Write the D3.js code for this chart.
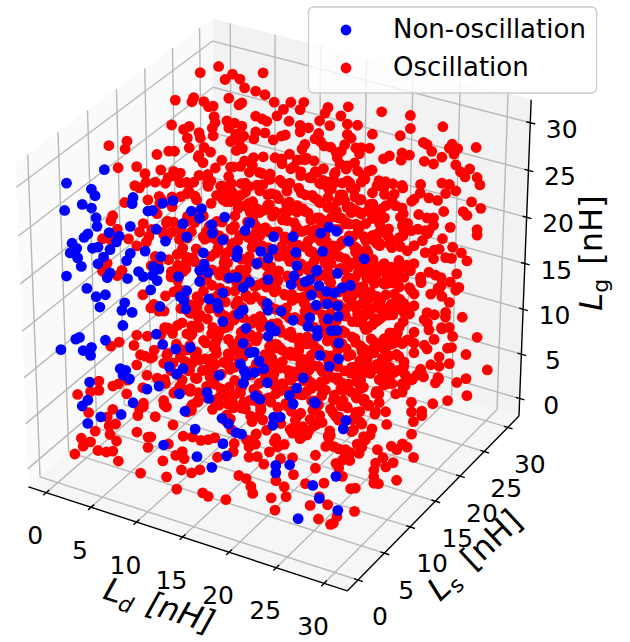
<!DOCTYPE html>
<html><head><meta charset="utf-8">
<script src="https://cdn.jsdelivr.net/npm/d3@7"></script>
<style>html,body{margin:0;padding:0;background:#fff}svg{display:block}text{font-family:"DejaVu Sans",sans-serif}</style>
</head><body><svg id="c" width="630" height="642"></svg>
<script>
const ticks=[0,5,10,15,20,25,30];
const legendLabels=["Non-oscillation","Oscillation"];
// [Ld, Ls, Lg] in nH
const nonOscillation=[[2.4,5,30.1],[1.2,0,30.8],[1,5,27.6],[1.4,5,27],[5.5,5,28],[5.4,5,27.3],[2.9,0,29],[3.9,0,28.9],[1,0,27.8],[4.4,0,28],[4.5,0,27.1],[8.7,5,28.3],[9.8,5,28.9],[7.1,5,27],[7.6,5,27.2],[8.9,10,25],[10,10,25.6],[9.8,10,24.5],[12.5,10,25.4],[8,10,23.4],[11.1,10,24.2],[11.2,10,23.3],[15.2,10,25.6],[14.7,10,24.6],[5.2,5,24.8],[8,5,25.3],[5.8,0,26.8],[3.5,0,26],[3.1,0,25.5],[4,5,23.4],[3.7,5,22.7],[8.4,10,22.1],[12.3,10,22.9],[14.9,15,21.5],[17,15,22.1],[1.8,0,24.5],[2.3,0,24.1],[9,5,24.3],[4,0,24.6],[4.6,0,24.9],[5.9,0,25],[6.8,5,22.6],[1.6,0,23.4],[2.4,0,23.1],[5.2,0,24],[5.2,5,21.9],[10.2,10,20.9],[13.9,10,22.2],[13.8,10,21.5],[13.5,15,19.5],[14.8,15,20.1],[14.3,15,19],[17.3,15,20.5],[8.5,5,22.5],[4.8,5,21],[4.6,0,23.1],[2.8,0,22.3],[13.1,15,18.1],[17.4,15,19.1],[10.3,10,19.7],[7.7,5,21.2],[8.3,5,21.1],[9.8,10,18.9],[10.7,10,18.9],[6.1,5,20.2],[6.6,5,19.8],[5.9,0,22.5],[5.6,0,21.9],[1.2,0,20.8],[7.6,5,20.2],[10.4,5,20.9],[4.9,5,19.1],[8.1,5,19.8],[13,10,19],[13.8,10,19.3],[17.1,15,17.9],[14.3,15,16.7],[9.8,10,17.7],[19.5,15,19.1],[18.8,15,18],[18.3,15,17.6],[16.8,15,16.9],[15.2,10,19.2],[14.5,10,18.4],[3.4,0,20.1],[7.4,5,18.6],[8.4,10,16.3],[12.3,10,17.2],[4.4,0,19.5],[5.4,0,20],[19,15,16.4],[10.6,5,18.8],[11,5,18.5],[10.8,10,16.1],[11.7,10,15.9],[4.6,5,16.4],[4.8,0,18.5],[8.4,5,17.1],[4.3,5,15.5],[5.4,5,15.6],[8.3,10,14.3],[11.8,10,15.4],[14.5,10,16],[14,10,15.4],[14.2,15,14.1],[14.3,15,13.4],[15.7,15,13.7],[18.8,15,13.9],[12.3,10,14.1],[17,15,13.1],[4.4,5,13.9],[14.5,15,11.7],[14.8,10,14.1],[18.6,15,12.9],[15.1,15,11.4],[8,5,14],[14.3,15,10.6],[2.6,0,14.6],[2.2,0,14.3],[5.4,0,15.1],[0.6,0,12.7],[8.7,5,13.1],[3.9,0,13.9],[3,0,13.3],[3.8,0,13],[10.1,5,13],[8.8,10,10.3],[14.5,10,12.4],[15.2,10,11.6],[15.7,10,11.8],[16.2,10,11],[14.2,10,10.1],[9.4,5,10.9],[8,10,7.8],[7.3,10,7],[7,0,12.5],[7.6,0,12.5],[7.3,0,11.9],[8,0,11.7],[14.6,10,9.5],[16.7,10,10.3],[15.7,10,9.6],[11.9,10,8.2],[14.8,10,9],[14.5,10,8.1],[17.1,10,8.9],[18.1,15,7.2],[3.7,0,10.1],[8.3,5,8.5],[7,5,7.8],[17.4,15,5.9],[10.5,5,8.3],[10.6,10,6],[10.8,10,5.4],[16.6,15,4.9],[15.8,10,7.1],[16.3,10,6.9],[3.5,0,8.1],[2.9,0,7.3],[5.5,5,5.9],[17,15,4.1],[16.4,20,1.6],[11.1,5,6.6],[7.1,0,7.6],[4.9,0,6.7],[3.5,0,5.6],[15.1,5,7],[15.8,5,6.6],[17.8,10,5.4],[18.5,10,5.6],[17.7,10,4.5],[12.2,5,5],[16.6,5,5.9],[17.2,5,5.9],[15.2,5,4.3],[8.8,5,2.3],[15.6,5,3.1],[12.4,5,2.1],[14,5,1.4],[20.9,5,3.6],[22.4,5,4.1],[20.9,5,2.8],[24.9,5,2.6],[26.2,0,1.9],[17.1,20,20],[18,20,20.9],[18.8,20,20.7],[20.1,20,20],[17.3,20,18.1],[21.8,20,18.6],[16.7,20,15.9],[18.9,20,16.2],[20.3,20,15.3],[16.9,20,14.3],[17.7,20,13.9],[18.6,20,14],[19.4,20,14.8],[17.8,20,12.6],[18.9,20,12.7],[16.6,20,12.1],[17.9,20,11],[19,20,11.6],[22.8,10,13.5],[24.8,10,13.7],[23.8,10,12.6],[24.8,10,15.4],[24,10,16.5],[24.6,10,16.7],[22.5,10,16.1],[22.5,10,15.5],[22.3,10,8.2],[25.6,10,7.3],[25.3,10,6.3],[27.4,5,4.3],[25.6,5,1.4],[27.6,5,0.7]];
const oscillationEdge=[[0.3,30,28.1],[1.2,25,30.2],[5.1,30,28.8],[1.8,30,27.7],[2.6,30,27.4],[1,30,26.9],[3.1,30,26.6],[4.3,30,26.6],[5.3,30,26.5],[6.3,30,26],[8.1,30,26.5],[9.5,30,26.9],[9.1,30,26],[1.4,30,25],[2.8,30,24.9],[2.5,30,24.6],[1.4,20,29.8],[0.5,25,27.3],[0.3,25,26.8],[1.6,25,27.2],[2.1,25,26.8],[2.6,25,27],[2.7,25,25.9],[2.8,25,25.3],[2.5,25,24.6],[2.6,25,23.8],[1,20,27],[2.9,20,27.4],[2.3,20,26.9],[2.7,20,26.1],[4.1,20,26.5],[2.9,20,25.1],[4.5,20,25.6],[5.2,20,25.3],[4.3,30,23.9],[5,30,23.8],[5.5,30,23.7],[7.3,30,25.5],[6.6,30,24.6],[7.9,30,24.4],[9.1,30,24.3],[10,30,24.3],[9.1,30,23.6],[1.2,30,22.5],[2,30,22.5],[2.8,30,22.4],[1.4,30,21.8],[4.3,30,22.2],[5.3,30,22.4],[7.5,30,22.8],[3,30,21.4],[2.1,30,21],[1.6,30,20.4],[4.1,30,21.4],[6.2,30,21.9],[9.6,30,22.4],[9.3,30,21.8],[9.3,30,20.7],[10.6,30,20.9],[0,10,29.5],[0.8,12,29.2],[0.6,12,28.3],[1,10,27.4],[3,10,28.1],[2.3,15,26.7],[4.2,15,27.6],[3.9,10,27.6],[5.6,10,28.5],[6.4,10,27.9],[2.8,10,26],[4,10,26.7],[5,10,27],[3.3,10,25.9],[4.6,5,27.2],[7.1,5,28.2],[8.6,5,28.6],[3.3,5,25.4],[3.1,5,24.8],[6.6,5,25.5],[6.2,5,24.5],[3.8,5,24.1],[2.2,5,22.6],[5,5,23.4],[7.2,5,24.3],[5.9,5,22.9],[3.1,5,22.7],[9.9,5,26.6],[9.7,5,25.5],[8.1,5,27],[2.7,5,20.1],[2.2,5,19.1],[4.3,5,19.8],[3.8,5,19.1],
[12.1,30,27.1],[14.3,30,27.8],[11.8,30,26.4],[11.2,30,25.4],[13.5,30,26.6],[12.3,30,25.2],[14.2,30,25.9],[15.3,30,26.1],[17.9,30,28.3],[21,30,28.8],[21,30,27.4],[24.5,30,28.6],[16.9,30,25.6],[19.9,30,26.3],[11.1,30,24],[11.3,30,23.2],[14.2,30,24.8],[14.6,30,24.5],[13.9,30,23.6],[12.4,30,22.9],[13,30,22.5],[15.1,30,23.6],[15.7,30,23.8],[16.6,30,24],[15.5,30,23.1],[22.4,30,26.3],[22.8,30,26.2],[23.3,30,25.6],[25.5,30,27],[25.2,30,26.5],[26.1,30,26.7],[28.1,30,27.4],[25.7,30,26],[24.4,30,25.3],[20.1,30,24.5],[20.9,30,24.5],[18.1,30,23.3],[20,30,23.7],[22.5,30,24.3],[23.5,30,24.3],[25.9,30,24.9],[27.4,30,24.9],[26.4,30,24.3],[26.9,30,23.9],[28.2,30,24.2],[28.5,30,23.5],[24.4,30,22.5],[25.2,30,22.6],[25.9,30,22.1],[24.8,30,21.5],[27.6,30,21.4],[28.6,30,21],[26.7,30,20.1],[27.1,30,19.8],[28.2,30,18.6],[28.2,30,18],[25.3,30,18],[24.6,30,19.5],[23,30,17],[26.5,30,15.6],[27.1,30,14.9],[24.8,30,14.6],[24.1,30,15.3],[22.6,30,14.5],[23.5,30,14.1],[26,30,13.2],[25.3,30,12.1],[24.3,30,11.4],[25.9,30,11.4],[23.2,30,10.2],[24.4,30,10.3],[25.2,30,9.9],[22.8,30,8.1],[24.8,30,8.7],[26.6,30,8.7],[22.1,30,11.7],[23,30,12.5],[23.7,30,12.4],[21.4,30,9.7],[20.9,30,7.4],[20.3,30,12.3],[21,30,12.1],[21.4,30,14.9],[22.3,30,15.7],[20.3,30,16.2],[21.8,30,16.8],[23.5,30,18.5],[22.8,30,18.3],[21.9,30,18.4],[20.1,30,18.6],[21.4,30,19.9],[22.1,30,21.7],[23,30,20.5],[20.1,30,21],[19.1,30,20.9],[17.6,30,20.8],[16.5,30,21.5],[15.3,30,21.2],[14.2,30,21.4],[13.4,30,21.4],[18.2,30,19.5],[16.9,30,19.3],[15.7,30,20.1],[14.2,30,19.8],[12.8,30,20.1],[11.6,30,19.1],[19,30,19],[16.4,30,17.2],[15,30,18.3],[13.9,30,17.6],[12.1,30,17.4],[11,30,16.8],[18.2,30,17],[17.3,30,16.8],[15.1,30,15.4],[14,30,15.1],[12.5,30,15.4],[11.2,30,14.7],[19,30,14],[17.1,30,14.2],[18.4,30,15.3],[16,30,14.3],[15.1,30,12.8],[13.5,30,12.8],[12.8,30,11.5],[11.8,30,12.3],[18.2,30,12],[19,30,11.9],[16.7,30,11.3],[15,30,11.1],[14.3,30,10.5],[11.8,30,10.2],[18.5,30,10],[19.8,30,10],[17.1,30,9.6],[15.9,30,8.9],[15,30,7.9],[14.1,30,9.1],[19.3,30,8],[17.8,30,8],[16.8,30,6.8],[16,30,7.8],[15.1,30,6.5],[14.6,30,7.1],[20.3,30,7.4],[19.1,30,6.8],[18,30,6.3],[15.9,30,5.6],[15.3,30,5.8],
[28.2,30,7],[27,30,4.8],[29.3,30,3.8],[25.2,30,3.3],[25,30,4.9],[24.4,30,6.8],[25.2,30,7.2],[23,30,6.3],[21.4,30,5.6],[19.6,30,5],[27,30,2.2],[26,30,1.5],[27.1,30,0.4],[27.9,25,2.6],[26.3,25,1.8],[24,25,1.3],[23.7,30,0.8],[22.5,30,4.5],[24.1,30,3.7],[23.2,30,2.6],[22.8,30,4.2],[21.4,30,4.4],[23,25,7.3],[21.8,25,6.9],[20.9,25,4.7],[21.6,25,5.6],[23.2,25,5.4],[22.5,25,4.3],[24.6,25,4.4],[25.3,25,4.4],[23.7,25,3.8],[21.9,25,2.7],[23,25,2.1],[21,25,2.3],[22.3,25,1.7],[23.8,20,9.8],[22.1,20,7.9],[23.4,20,7.2],[21.4,20,5.4],[22,20,7.4],[20.4,20,6.5],[24.1,20,6.9],[19.6,20,4.2],[20.9,20,3.6],[21.8,20,3.5],[22.3,20,3],[23.4,20,3.6],[21.3,20,2],[19.5,20,2.7],[24.1,20,2.8],[23,20,2.5],[26.9,20,3.6],[28,20,4],[27.1,20,2.6],[28,20,3.5],[27.1,15,4.8],[26.9,20,1.2],[30,15,2.1],[29.3,15,3],[28.8,15,3.2],[27.6,15,2.6],[28.2,15,2.4],[26.1,15,1.8],[26.7,15,1.1],[27.8,15,0.9],[27,15,0.2],[25.9,15,0.3],[28.6,10,2.8],[28.6,10,2.1],[29.1,10,1.5],[28.6,10,1.4],[29.9,12,1.1],[26.6,10,0.3],[26.1,10,0.1],[29.4,5,1.1],[27.5,5,0],[30,0,2.5],[29.7,0,2.3],[28.4,0,2.5],[26.5,5,1],[26.1,5,3.2],[28.1,5,4.5],[27.4,5,5.7],[27.7,5,5.3],[28.6,5,6.6],[29,5,7.3],[29.9,5,7.5],[24.3,10,4.1],[24.8,10,4],[23.9,10,5.2],[27.3,10,7.4],[27.5,10,6.1],[28.4,10,7.2],[28.2,10,6.5],[26.8,10,5.1],[27.3,10,4.9],[27.7,10,5.8],[26.4,10,6.5],[22.1,10,5.7],[24.8,10,7.1],[24.5,10,7.4],[22.3,10,2.6],[22.3,10,1.2],[25.6,5,1.6],[25.7,10,8.8],[26,10,3.1],[25.2,10,2.9],[25.5,10,3.5],
[2.1,0,1.9],[2.8,0,3.8],[3.8,0,3.7],[3,0,3],[4.6,0,3],[5.5,0,3.1],[6.2,0,3.4],[6.8,0,2.5],[9.2,0,1.9],[11.6,0,3.9],[12,0,2.3],[13.1,0,1.3],[15.9,0,1.7],[16.5,0,1.5],[18.4,0,1.7],[21.3,0,3.2],[21.1,0,3.9],[20.6,0,4.6],[19.8,0,4.7],[23.3,0,3.3],[23.7,0,2.1],[24.9,0,3.9],[24.7,0,4.9],[25.7,0,6.5],[27,0,5.9],[27.5,0,3.7],[23.8,0,5.3],[25.6,0,8.3],[13.6,0,3.5],[14.7,0,3.5],[15.6,0,4.1],[13.7,0,5.5],[13.9,0,4.8],[13,0,4.9],[12.2,0,5.9],[10,0,4.9],[10,0,6],[8.8,0,6.2],[10.3,0,6.1],[12.7,0,8.1],[13.8,0,7.2],[14.8,0,7.4],[15.7,0,7.3],[16.5,0,7.6],[17.2,0,8],[17.5,0,6],[19.3,0,8],[19.2,0,7.1],[20.9,0,7],[20.9,0,8.1],[21.6,0,8.6],[21.8,0,7.3],[22.5,0,6.7],[24.3,0,7.8],[23.1,0,8.2],[24,0,9],[6.6,0,4.6],[5.9,0,5.1],[4.3,0,5],[3.6,0,6.8],[4.7,0,10.5],[2.4,0,8.4],[3.8,0,9.1],[4.7,0,9.5],[6.2,0,10.4],[6.2,0,7.9],[5.6,0,6.9],[6.5,0,6.4],[5.8,0,6],[8.9,0,8],[9.5,0,9.5],[9.1,0,8.8],[7.7,0,10],[7.8,0,11.5],[6.8,0,10.8],[7,5,9.3],[8.1,5,9.3],[5.9,5,10.1],[6.3,5,11.3],[5.6,5,12.1],[4,5,12],[3.1,5,11.3],[5.9,5,13.3],[6.8,5,11.3],[8.8,5,11.1],[9,5,9],[9.9,5,8.2],[8.8,5,7.1],[6.6,5,5.8],[7.9,5,5.1],[9.1,5,6.5],[11.8,5,6.9],[12.5,5,8],[10.8,5,9.9],[11.6,5,11.2],[12.4,5,10.5],[12.7,5,12.6],[10.6,5,12.3],[11.3,5,15],[9.5,5,14.9],[13.1,5,14.8],[14.5,5,13.8],[15.6,5,13],[13.8,5,11.1],[15.9,5,10.6],[14.9,5,9.3],[17,5,10.4],[16.3,5,8.9],[17.2,5,8.7],[15.6,5,7.5],[18.1,5,9.8],[19.5,5,8.1],[18.8,5,6.4],[19.9,5,7.1],[20.9,5,6.5],[18.4,5,5.6],[22.7,5,7.6],[22,5,10.6],[20.9,5,11.3],[23.8,5,8.6],[23.6,5,10],[24.5,5,8.4],[24.9,5,10.7],[24.3,5,12.6],[23.6,5,15.3],[22.7,5,13.6],[21.6,5,12.6],[24.5,5,14.9],[23.4,5,16.7],[21.6,5,16.2],[22.7,5,17.9],[21.3,5,14.6],[19.9,5,10.5],[20.6,5,12.7],[19.1,5,11.9],[18.8,5,16.4],[17.4,5,17.1],[18.8,5,13.9],[14.1,5,16.5]];
const oscillationMiddle=[[2.6,15,21.5],[2.9,13,19.8],[2.4,16,17.9],[3,14,15.6],[2.7,17,13.2],[3.1,13,11.8],[2.5,15,9.9],[2.9,16,7.7],[2.4,14,5.4],
[4.1,15,25.4],[3.7,13,23.6],[4.4,17,22.1],[3.9,14,20.3],[4.2,16,18.6],[3.6,13,17],[4.5,15,15.1],[4,17,13.6],[3.8,14,12.4],[4.3,16,10.2],[3.9,13,8.8],[4.4,15,6.9],[4,17,5.1],[3.7,14,3.4],[4.2,16,1.8],
[5.4,14,26.1],[5.7,16,24.2],[5.1,13,22.9],[5.6,15,21],[5.2,17,19.2],[5.5,14,17.7],[5,16,15.9],[5.8,13,14.2],[5.3,15,12.9],[5.6,17,11],[5.1,14,9.6],[5.5,16,7.8],[5.2,13,6.1],[5.7,15,4.4],[5.3,17,2.5],
[6.7,16,26.6],[6.9,13,25.1],[6.4,15,23.4],[7,17,21.8],[6.6,14,20.1],[6.9,16,18.4],[6.3,13,16.8],[7.1,15,15.3],[6.5,17,13.5],[6.8,14,11.8],[6.4,16,10.1],[7,13,8.5],[6.6,15,6.7],[6.9,17,5],[6.5,14,3.2],[7.1,16,1.4],
[8,13,27.1],[7.8,15,25.5],[8.3,17,24],[7.9,14,22.2],[8.2,16,20.7],[7.7,13,19.1],[8.1,15,17.4],[8.4,17,15.8],[7.9,14,14.1],[8.3,16,12.5],[7.8,13,10.9],[8.2,15,9.1],[7.7,17,7.6],[8.4,14,5.9],[8,16,4.2],[7.8,13,2.7],[8.3,15,1],
[9.3,15,28.1],[9.1,17,26.3],[9.6,14,24.9],[9.2,16,23.1],[9.5,13,21.5],[9,15,19.9],[9.4,17,18.2],[9.7,14,16.6],[9.2,16,15],[9.6,13,13.3],[9.1,15,11.7],[9.5,17,10],[9,14,8.4],[9.4,16,6.8],[9.7,13,5.1],[9.2,15,3.5],[9.5,17,1.9],
[10.6,17,27.4],[10.4,14,26],[10.8,16,24.3],[10.5,13,22.8],[10.3,15,21],[10.9,17,19.4],[10.5,14,17.9],[10.7,16,16.2],[10.4,13,14.6],[10.8,15,13],[10.2,17,11.3],[10.6,14,9.7],[10.9,16,8.1],[10.4,13,6.4],[10.7,15,4.8],[10.3,17,3],[10.8,14,1.2],
[11.9,14,28.7],[11.7,16,27],[12.1,13,25.6],[11.8,15,23.9],[12.2,17,22.3],[11.6,14,20.6],[12,16,19],[11.8,13,17.5],[12.1,15,15.8],[11.7,17,14.2],[12.2,14,12.5],[11.8,16,10.9],[12,13,9.3],[11.6,15,7.6],[12.1,17,6],[11.9,14,4.3],[12.3,16,2.6],
[13.2,16,29.1],[13,13,27.7],[13.4,15,26],[13.1,17,24.5],[13.5,14,22.8],[12.9,16,21.2],[13.3,13,19.7],[13.1,15,18],[13.4,17,16.4],[13,14,14.7],[13.5,16,13.1],[13.2,13,11.5],[12.9,15,9.8],[13.3,17,8.2],[13.1,14,6.6],[13.4,16,5],[13,13,3.4],[13.3,15,1.7],
[14.5,13,29.3],[14.3,15,27.9],[14.7,17,26.2],[14.4,14,24.7],[14.2,16,23],[14.8,13,21.5],[14.5,15,19.8],[14.3,17,18.2],[14.7,14,16.5],[14.4,16,14.9],[14.8,13,13.4],[14.2,15,11.7],[14.6,17,10.1],[14.4,14,8.4],[14.7,16,6.8],[14.3,13,5.3],[14.6,15,3.6],[14.2,17,1.9],
[15.8,15,29.6],[15.6,17,28],[16,14,26.4],[15.7,16,24.8],[15.5,13,23.3],[16.1,15,21.6],[15.8,17,20],[15.6,14,18.4],[16,16,16.8],[15.7,13,15.2],[16.1,15,13.5],[15.5,17,11.9],[15.9,14,10.3],[15.7,16,8.7],[16,13,7.1],[15.6,15,5.5],[15.9,17,3.8],[15.5,14,2.2],[16.1,16,0.6],
[17.1,17,29.4],[16.9,14,28],[17.3,16,26.4],[17,13,24.9],[17.4,15,23.2],[16.8,17,21.6],[17.2,14,20],[17,16,18.4],[17.3,13,16.9],[16.9,15,15.2],[17.4,17,13.6],[17,14,12],[17.2,16,10.4],[16.8,13,8.9],[17.3,15,7.2],[17,17,5.6],[17.4,14,3.9],[16.9,16,2.3],[17.2,13,0.8],
[18.4,14,30],[18.2,16,28.3],[18.6,13,26.9],[18.3,15,25.2],[18.7,17,23.6],[18.1,14,22],[18.5,16,20.4],[18.3,13,18.9],[18.6,15,17.2],[18.2,17,15.6],[18.7,14,14],[18.3,16,12.4],[18.5,13,10.9],[18.1,15,9.2],[18.6,17,7.6],[18.3,14,6],[18.7,16,4.4],[18.2,13,2.9],[18.5,15,1.2],
[19.7,16,29.7],[19.5,13,28.3],[19.9,15,26.6],[19.6,17,25],[20,14,23.4],[19.4,16,21.8],[19.8,13,20.3],[19.6,15,18.6],[19.9,17,17],[19.5,14,15.4],[20,16,13.8],[19.6,13,12.3],[19.8,15,10.6],[19.4,17,9],[19.9,14,7.4],[19.6,16,5.8],[20,13,4.3],[19.5,15,2.6],[19.8,17,1],
[21,13,30],[20.8,15,28.4],[21.2,17,26.8],[20.9,14,25.2],[21.3,16,23.6],[20.7,13,22.1],[21.1,15,20.4],[20.9,17,18.8],[21.2,14,17.2],[20.8,16,15.6],[21.3,13,14.1],[20.9,15,12.4],[21.1,17,10.8],[20.7,14,9.2],[21.2,16,7.6],[20.9,13,6.1],[21.3,15,4.4],[20.8,17,2.8],[21.1,14,1.2],
[22.3,15,29.4],[22.1,17,27.8],[22.5,14,26.2],[22.2,16,24.6],[22.6,13,23.1],[22,15,21.4],[22.4,17,19.8],[22.2,14,18.2],[22.5,16,16.6],[22.1,13,15.1],[22.6,15,13.4],[22.2,17,11.8],[22.4,14,10.2],[22,16,8.6],[22.5,13,7.1],[22.2,15,5.4],[22.6,17,3.8],
[23.6,17,29.2],[23.4,14,27.6],[23.8,16,26],[23.5,13,24.5],[23.9,15,22.8],[23.3,17,21.2],[23.7,14,19.6],[23.5,16,18],[23.8,13,16.5],[23.4,15,14.8],[23.9,17,13.2],[23.5,14,11.6],[23.7,16,10],[23.3,13,8.5],[23.8,15,6.8],[23.5,17,5.2],[23.9,14,3.6],
[24.9,14,28.9],[24.7,16,27.3],[25.1,13,25.8],[24.8,15,24.1],[25.2,17,22.5],[24.6,14,20.9],[25,16,19.3],[24.8,13,17.8],[25.1,15,16.1],[24.7,17,14.5],[25.2,14,12.9],[24.8,16,11.3],[25,13,9.8],[24.6,15,8.1],[25.1,17,6.5],[24.8,14,4.9],
[26.2,16,29.5],[26,13,27.1],[26.4,15,25.4],[26.1,17,23.8],[26.5,14,22.2],[25.9,16,20.6],[26.3,13,19.1],[26.1,15,17.4],[26.4,17,15.8],[26,14,14.2],[26.5,16,12.6],[26.1,13,11.1],[26.3,15,9.4],[25.9,17,7.8],[26.4,14,6.2],
[27.5,13,27.5],[27.3,15,25.9],[27.7,17,24.3],[27.4,14,22.7],[27.8,16,21.1],[27.2,13,19.6],[27.6,15,17.9],[27.4,17,16.3],[27.7,14,14.7],[27.3,16,13.1],[27.8,13,11.6],[27.4,15,9.9],[27.6,17,8.3],
[28.8,15,26.7],[28.6,17,25.1],[29,14,23.5],[28.7,16,21.9],[29.1,13,20.4],[28.5,15,18.7],[28.9,17,17.1],[28.7,14,15.5],[29,16,13.9],[28.6,13,12.4],[29.1,15,10.7],[28.7,17,9.1]];
const oscillationInner=[[4.8,15,24.4],[4.6,13,21.2],[5,16,18],[4.7,14,13.1],[5.1,15,11],[4.9,17,8],[6.1,14,25.3],[6,16,22.4],[5.9,13,19.6],[6.2,15,16.7],[6,17,14.1],[5.8,15,10.7],[6.2,14,7.3],[7.2,16,24.5],[7.4,13,22.6],[7.3,15,19.3],[7.5,17,16.6],[7.2,14,13.3],[7.4,16,11.1],[7.1,13,9.6],[7.5,15,6.2],[8.7,14,26.2],[8.6,16,24.6],[8.8,13,21.3],[8.9,15,18.6],[8.6,17,16.9],[8.8,14,15],[8.5,16,13.6],[8.9,13,11.9],[8.6,15,8.2],[8.8,17,5.4],[10,16,27.1],[9.9,13,25.5],[10.2,15,23.9],[9.9,17,22.1],[10.1,14,20.4],[9.8,16,18.7],[10.2,13,17],[10,15,15.6],[9.8,17,14],[10.2,14,12.1],[10,16,10.6],[9.8,13,8.9],[10.1,15,7.1],[11.2,13,27.9],[11.4,15,26.2],[11.1,17,24.8],[11.3,14,23.2],[11.5,16,21.6],[11.2,13,19.8],[11.4,15,18.1],[11.1,17,16.7],[11.3,14,15.1],[11.5,16,13.5],[11.2,13,11.8],[11.4,15,10.2],[11.1,17,8.6],[11.3,14,6.9],[11.5,16,5.3],[12.6,15,28.5],[12.5,17,26.6],[12.8,14,25],[12.6,16,23.3],[12.4,13,21.9],[12.7,15,20.2],[12.9,17,18.4],[12.5,14,16.9],[12.7,16,15.2],[12.4,13,13.7],[12.8,15,12],[12.6,17,10.3],[12.4,14,8.7],[12.8,16,7],[12.5,13,5.6],[13.9,17,28.7],[13.7,14,27.2],[14.1,16,25.4],[13.8,13,24],[14,15,22.2],[13.6,17,20.6],[14,14,19],[13.8,16,17.3],[14.1,13,15.8],[13.7,15,14.2],[14,17,12.4],[13.8,14,10.9],[14.1,16,9.2],[13.7,13,7.7],[14,15,6],[13.8,17,4.2],[15.1,14,28.8],[15,16,27.1],[15.3,13,25.6],[15,15,24],[15.2,17,22.3],[14.9,14,20.8],[15.3,16,19.1],[15,13,17.6],[15.2,15,15.9],[14.9,17,14.3],[15.3,14,12.7],[15,16,11.1],[15.2,13,9.5],[14.9,15,7.9],[15.3,17,6.2],[15,14,4.7],[16.5,16,29],[16.3,13,27.4],[16.6,15,25.7],[16.4,17,24.1],[16.7,14,22.5],[16.2,16,20.9],[16.6,13,19.3],[16.4,15,17.7],[16.7,17,16],[16.3,14,14.5],[16.6,16,12.8],[16.4,13,11.3],[16.7,15,9.6],[16.2,17,8],[16.5,14,6.4],[16.3,16,4.8],[16.7,13,3.1],[17.8,13,29.1],[17.6,15,27.5],[17.9,17,25.8],[17.7,14,24.3],[18,16,22.6],[17.5,13,21.1],[17.9,15,19.4],[17.7,17,17.8],[18,14,16.3],[17.6,16,14.6],[17.9,13,13.1],[17.7,15,11.4],[18,17,9.8],[17.5,14,8.2],[17.9,16,6.6],[17.7,13,5],[19,15,29],[18.9,17,27.3],[19.2,14,25.8],[19,16,24.2],[19.3,13,22.7],[18.8,15,21],[19.2,17,19.4],[19,14,17.8],[19.3,16,16.2],[18.9,13,14.7],[19.2,15,13],[19,17,11.4],[19.3,14,9.8],[18.8,16,8.2],[19.2,13,6.7],[19,15,5],[20.4,17,29],[20.2,14,27.5],[20.5,16,25.8],[20.3,13,24.3],[20.6,15,22.6],[20.1,17,21],[20.5,14,19.4],[20.3,16,17.8],[20.6,13,16.3],[20.2,15,14.6],[20.5,17,13],[20.3,14,11.4],[20.6,16,9.8],[20.1,13,8.3],[20.5,15,6.6],[20.3,17,5],[21.7,14,29.1],[21.5,16,27.4],[21.8,13,25.9],[21.6,15,24.2],[21.9,17,22.6],[21.4,14,21],[21.8,16,19.4],[21.6,13,17.9],[21.9,15,16.2],[21.5,17,14.6],[21.8,14,13],[21.6,16,11.4],[21.9,13,9.9],[21.4,15,8.2],[21.8,17,6.6],[23,16,28.4],[22.8,13,26.9],[23.1,15,25.2],[22.9,17,23.6],[23.2,14,22],[22.7,16,20.4],[23.1,13,18.9],[22.9,15,17.2],[23.2,17,15.6],[22.8,14,14],[23.1,16,12.4],[22.9,13,10.9],[23.2,15,9.2],[22.7,17,7.6],[24.3,13,28.4],[24.1,15,26.8],[24.4,17,25.2],[24.2,14,23.6],[24.5,16,22],[24,13,20.5],[24.4,15,18.8],[24.2,17,17.2],[24.5,14,15.6],[24.1,16,14],[24.4,13,12.5],[24.2,15,10.8],[24.5,17,9.2],[25.6,15,28.1],[25.4,17,26.5],[25.7,14,24.9],[25.5,16,23.3],[25.8,13,21.8],[25.3,15,20.1],[25.7,17,18.5],[25.5,14,16.9],[25.8,16,15.3],[25.4,13,13.8],[25.7,15,12.1],[25.5,17,10.5],[26.9,17,27.3],[26.7,14,25.7],[27,16,24.1],[26.8,13,22.6],[27.1,15,20.9],[26.6,17,19.3],[27,14,17.7],[26.8,16,16.1],[27.1,13,14.6],[26.7,15,12.9],[27,17,11.3],[28.2,14,25.3],[28,16,23.7],[28.3,13,22.2],[28.1,15,20.5],[28.4,17,18.9],[27.9,14,17.3],[28.3,16,15.7],[28.1,13,14.2],[28.4,15,12.5]];
const oscillationFar=[[14.4,22,26.3],[14.2,24,23.8],[14.6,21,21.4],[14.3,23,19.1],[14.5,22,16.7],[14.1,24,14.2],[14.6,21,11.9],[14.3,23,9.4],[14.5,22,7.1],[14.2,24,4.8],[15.7,23,27.5],[15.5,21,25.1],[15.9,24,22.7],[15.6,22,20.2],[15.8,23,17.9],[15.4,21,15.5],[15.9,24,13.1],[15.6,22,10.7],[15.8,23,8.2],[15.5,21,5.9],[15.9,24,3.4],[17,24,26.8],[16.8,22,24.4],[17.2,23,22],[16.9,21,19.6],[17.1,24,17.1],[16.7,22,14.8],[17.2,23,12.3],[16.9,21,10],[17.1,24,7.5],[16.8,22,5.1],[17.2,23,2.7],[18.3,21,28],[18.1,23,25.7],[18.5,24,23.2],[18.2,22,20.9],[18.4,21,18.5],[18,23,16],[18.5,24,13.6],[18.2,22,11.3],[18.4,21,8.9],[18.1,23,6.4],[18.5,24,4],[19.6,22,27.3],[19.4,24,24.8],[19.8,21,22.5],[19.5,23,20],[19.7,22,17.7],[19.3,24,15.2],[19.8,21,12.9],[19.5,23,10.4],[19.7,22,8],[19.4,24,5.6],[19.8,21,3.2],[20.9,23,26.4],[20.7,21,24.1],[21.1,24,21.6],[20.8,22,19.3],[21,23,16.8],[20.6,21,14.5],[21.1,24,12],[20.8,22,9.7],[21,23,7.2],[20.7,21,4.9],[22.2,24,27.8],[22,22,25.5],[22.4,23,23],[22.1,21,20.7],[22.3,24,18.2],[21.9,22,15.9],[22.4,23,13.4],[22.1,21,11.1],[22.3,24,8.6],[22,22,6.3],[23.5,21,26.9],[23.3,23,24.5],[23.7,24,22],[23.4,22,19.7],[23.6,21,17.4],[23.2,23,14.9],[23.7,24,12.4],[23.4,22,10.1],[23.6,21,7.8],[23.3,23,5.3],[24.8,22,26.1],[24.6,24,23.6],[25,21,21.3],[24.7,23,18.8],[24.9,22,16.5],[24.5,24,14],[25,21,11.7],[24.7,23,9.2],[24.9,22,6.9],[24.6,24,4.4],[26.1,23,25.4],[25.9,21,23.1],[26.3,24,20.6],[26,22,18.3],[26.2,23,15.8],[25.8,21,13.5],[26.3,24,11],[26,22,8.7],[26.2,23,6.2],[27.4,24,24.5],[27.2,22,22.2],[27.6,23,19.7],[27.3,21,17.4],[27.5,24,14.9],[27.1,22,12.6],[27.6,23,10.1],[27.3,21,7.8],[27.5,24,5.3],[28.7,21,23.7],[28.5,23,21.2],[28.9,24,18.7],[28.6,22,16.4],[28.8,21,14.1],[28.4,23,11.6],[28.9,24,9.1],[28.6,22,6.8],[29.6,23,20.6],[29.5,21,18.3],[29.7,24,15.8],[29.4,22,13.5],[29.6,23,11],[29.3,21,8.7]];
const oscillationNear=[[5.2,8,21.6],[5,10,19],[5.4,7,16.5],[5.1,9,14],[5.3,8,11.5],[4.9,10,8.9],[5.4,7,6.5],[6.5,9,22.3],[6.3,7,19.9],[6.7,10,17.3],[6.4,8,14.9],[6.6,9,12.3],[6.2,7,9.9],[6.7,10,7.2],[7.8,10,22.8],[7.6,8,20.4],[8,9,17.8],[7.7,7,15.4],[7.9,10,12.7],[7.5,8,10.3],[8,9,7.7],[7.7,7,5.3],[9.1,7,21.9],[8.9,9,19.3],[9.3,8,16.9],[9,10,14.2],[9.2,7,11.9],[8.8,9,9.3],[9.3,8,6.9],[9,10,4.2],[10.4,8,21],[10.2,10,18.3],[10.6,7,16],[10.3,9,13.4],[10.5,8,10.9],[10.1,10,8.2],[10.6,7,5.9],[11.7,9,20],[11.5,7,17.6],[11.9,10,15],[11.6,8,12.6],[11.8,9,10],[11.4,7,7.7],[11.9,10,5],[13,10,19.2],[12.8,8,16.8],[13.2,9,14.2],[12.9,7,11.8],[13.1,10,9.2],[12.7,8,6.8],[13.2,9,4.2],[14.3,7,18.3],[14.1,9,15.8],[14.5,8,13.3],[14.2,10,10.7],[14.4,7,8.3],[14,9,5.8],[15.6,8,17.4],[15.4,10,14.8],[15.8,7,12.5],[15.5,9,9.9],[15.7,8,7.4],[15.3,10,4.8],[16.9,9,16.5],[16.7,7,14.1],[17.1,10,11.5],[16.8,8,9.1],[17,9,6.5],[16.6,7,4.1],[18.2,10,15.6],[18,8,13.2],[18.4,9,10.7],[18.1,7,8.2],[18.3,10,5.6],[19.5,7,14.8],[19.3,9,12.3],[19.7,8,9.8],[19.4,10,7.2],[19.6,7,4.8],[20.8,8,13.9],[20.6,10,11.3],[21,7,9],[20.7,9,6.4],[22.1,9,12.9],[21.9,7,10.6],[22.3,10,8],[22,8,5.5],[23.4,10,12],[23.2,8,9.6],[23.6,9,7],[24.7,7,11.2],[24.5,9,8.7],[24.9,8,6.2]];
const oscillationUpper=[[0.7,20,24.1],[1.9,19,22.3],[3.3,21,23.7],[2.2,18,20.6],[3.8,22,20.2],[1.4,21,18.9],[4.9,20,22.8],[6.3,19,24.4],[5.8,22,19.7],[7.4,21,25.6],[8.6,18,23.9],[7.1,20,21.3],[9.7,22,22.1],[10.4,19,26.7],[8.9,21,19.4],[11.6,20,24.2],[12.7,18,22.8],[13.4,22,25.8],[3.1,19,17.7],[1.8,22,15.9],[4.7,21,16.4],[6.2,18,18.6],[7.9,22,16.1],[9.3,20,17.3],[10.8,21,20.7],[12.1,19,19.2],[13.6,20,21.4],[11.3,22,17.5],[13.1,21,15.8],[2.6,20,13.1],[4.2,18,14.3],[5.6,22,12.9],[7.3,19,13.8],[8.8,21,14.6],[10.2,18,15.1],[11.9,20,13.2],[6.9,20,10.8],[3.7,21,10.4],[9.6,19,11.7],[12.8,22,11.2],[0.9,19,21.2],[2.8,22,25.7],[5.1,18,25.9],[6.8,22,26.7],[8.3,20,27.3],[9.8,18,28],[11.7,22,27.9],[12.9,20,26.8],[14.3,19,28.2],[15.9,21,29.3],[17.3,19,27.1],[16.4,20,23.6],[15.1,19,22.2],[16.9,18,20.1],[18.6,20,25.9],[19.7,19,22.9],[18.1,19,18.8],[15.6,18,18.2],[17.4,21,16.7],[19.2,18,15.3],[16.2,19,13.4],[14.7,20,15.2],[18.7,19,12.3],[20.4,20,14.1],[21.3,18,17.4],[22.6,19,20.3],[23.8,20,16.6],[21.7,21,12.7],[24.3,18,13.6],[22.9,19,24.6],[20.8,19,27],[24.1,19,27.8],[25.7,20,24.2],[26.4,18,19.2],[27.2,19,15.4],[25.9,19,11.6],[1.7,18,16.2],[3.4,17,14.1],[4.6,19,19.3],[7.7,18,21.9],[8.1,19,18.3],[10.9,18,22.6],[11.1,21,14.2],[12.3,18,16.2],[13.9,19,17.7],[14.6,18,24.8],[16.1,18,26.9],[2.3,19,11.4],[5.4,20,9.6],[8.4,20,9.1],[11.2,19,8.7],[13.7,20,9.9],[15.4,19,7.9],[17.8,20,8.6],[20.1,18,9.3],[22.4,18,7.8],[24.7,19,8.4],[26.8,19,6.9],[3.9,20,7.1],[6.6,19,6.4],[9.1,18,6.1],[12.4,19,5.7],[14.9,18,4.9],[17.2,18,4.3],[19.9,19,5.2],[22.1,18,4.7],[24.2,18,5.8],[1.1,21,8.8],[7.6,21,4.6],[10.5,20,3.3],[13.3,21,2.6]];
const oscillationLower=[[6.2,12,3.9],[7.9,11,2.6],[9.4,12,5.3],[11.1,13,3.4],[12.7,11,4.8],[14.3,12,2.9],[15.8,11,5.1],[17.4,12,3.6],[18.9,13,1.9],[20.2,11,3.8],[21.6,12,5.7],[23.1,11,4.4],[24.4,12,2.8],[25.7,11,6.9],[5.1,12,7.4],[7.2,13,6.6],[8.7,11,8.4],[10.3,12,7.9],[11.8,11,9.1],[13.4,12,6.8],[15,13,8.3],[16.6,11,9.7],[18.3,12,7.1],[19.7,11,10.2],[21.2,13,8.7],[22.8,11,10.4],[24.2,12,9.1],[26,12,9.8],[27.4,11,8.9],[6.3,11,10.6],[8,12,11.2],[9.9,13,10.1],[11.4,11,12.3],[13,12,11.4],[14.7,11,12.9],[16.3,13,11.3],[17.9,11,12.4],[19.3,12,13.1],[20.9,11,14.2],[22.4,12,12.1],[23.9,11,14.6],[25.6,13,13.2],[27.1,12,11.8],[28.3,11,10.7],[7,13,12.9],[8.9,11,14.1],[10.6,12,15.4],[12.2,13,14.8],[13.8,11,15.6],[15.5,12,16.2],[17,13,15.1],[18.6,11,16.9],[20,12,16.4],[21.5,13,17.2],[23.3,12,18.1],[24.9,11,17.9],[26.5,12,16.7],[28,13,15.3],[29.1,11,13.6],[6.7,12,16.8],[8.3,13,17.6],[9.6,11,18.8],[11,12,18.2],[12.6,13,19.4],[14,11,17.9],[16,12,19.1],[17.7,11,19.6],[19.1,13,18.4],[20.7,11,20.3],[22.2,12,20.9],[23.7,13,21.6],[25.2,11,20.6],[26.7,12,21.9],[28.6,12,19.2],[7.4,11,20.1],[9,13,20.7],[10.9,11,22.1],[12.4,12,23.4],[14.1,13,22.6],[15.7,11,23.8],[17.5,12,22.7],[19,12,24.6],[20.6,13,24.9],[22.7,11,23.9],[24.6,13,25.3],[26.3,11,24.4],[28.1,12,26.1],[16.8,12,26.2],[18.4,11,27.2],[13.6,12,27.4],[11.6,13,26.3],[21.9,12,26.8],[23.4,12,28.2],[25.4,12,28.9],[29.4,13,22.6],[29.7,12,16.9],[27.8,11,13.1],[26.2,13,7.7],[24,13,6.7],[21,12,6.1],[18.1,13,5.4],[15.3,11,2.3],[12.1,12,1.4],[9.8,13,2.9],[8.2,11,4.9]];
const oscillation=[...oscillationEdge,...oscillationMiddle,...oscillationInner,...oscillationFar,...oscillationNear,...oscillationUpper,...oscillationLower];

// scales: nH to the unit cube, view plane to screen
const unit=d3.scaleLinear().domain([-2,32.4]).range([0,1]);
const sx=d3.scaleLinear().domain([-0.1,0.1]).range([277.5-368,277.5+368]);
const sy=d3.scaleLinear().domain([-0.1,0.1]).range([295+369,295-369]);
const el=30*Math.PI/180,az=-60*Math.PI/180,dist=10;
const n=[Math.cos(el)*Math.cos(az),Math.cos(el)*Math.sin(az),Math.sin(el)];
const u=[0.866025,0.5,0];
const v=[n[1]*u[2]-n[2]*u[1],n[2]*u[0]-n[0]*u[2],n[0]*u[1]-n[1]*u[0]];
const dot=(x,y)=>x[0]*y[0]+x[1]*y[1]+x[2]*y[2];
function pu(a,b,c){const p=[a-.5,b-.5,c-.5];const w=dist-dot(n,p);return [sx(dot(u,p)/w),sy(dot(v,p)/w)];}
// marks: depth cannot be read from the picture, so they sit at the mean view distance
const pd=l=>{const p=[unit(l[0])-.5,unit(l[1])-.5,unit(l[2])-.5];return [sx(dot(u,p)/dist),sy(dot(v,p)/dist)];};

const svg=d3.select("#c");
const line=d3.line();
const poly=(pts,fill)=>svg.append("path").attr("d",line(pts)+"Z").attr("fill",fill).attr("stroke","none");
poly([pu(0,0,0),pu(0,1,0),pu(0,1,1),pu(0,0,1)],"#fafafa");
poly([pu(0,1,0),pu(1,1,0),pu(1,1,1),pu(0,1,1)],"#f2f2f2");
poly([pu(0,0,0),pu(1,0,0),pu(1,1,0),pu(0,1,0)],"#f6f6f6");
const seg=(a,b,col,w)=>svg.append("path").attr("d",line([a,b])).attr("stroke",col).attr("stroke-width",w).attr("fill","none");
const grid="#b8b8b8",gw=1.4;
ticks.forEach(t=>{const k=unit(t);
  seg(pu(k,0,0),pu(k,1,0),grid,gw);seg(pu(k,1,0),pu(k,1,1),grid,gw);
  seg(pu(1,k,0),pu(0,k,0),grid,gw);seg(pu(0,k,0),pu(0,k,1),grid,gw);
  seg(pu(0,0,k),pu(0,1,k),grid,gw);seg(pu(0,1,k),pu(1,1,k),grid,gw);
});
seg(pu(0,0,0),pu(1,0,0),"#000",1.4);
seg(pu(1,0,0),pu(1,1,0),"#000",1.4);
seg(pu(1,1,0),pu(1,1,1),"#000",1.4);
ticks.forEach(t=>{const k=unit(t);
  seg(pu(k,-0.015,0),pu(k,0.015,0),"#000",1.4);
  seg(pu(1-0.012,k,0),pu(1+0.015,k,0),"#000",1.4);
  seg(pu(1-0.012,1,k),pu(1+0.015,1,k),"#000",1.4);
});
const tick=(p,dx,dy,t)=>svg.append("text").attr("x",p[0]+dx).attr("y",p[1]+dy+9).attr("text-anchor","middle").attr("font-size",25).attr("fill","#000").text(t);
ticks.forEach(t=>{const k=unit(t);
  tick(pu(k,0,0),-11,42.5,t);
  tick(pu(1,k,0),22,36.5,t);
  tick(pu(1,1,k),31.5,6,t);
});

svg.append("g").selectAll("circle").data(oscillation).join("circle")
  .attr("cx",d=>pd(d)[0]).attr("cy",d=>pd(d)[1]).attr("r",5.4).attr("fill","#ff0000");
svg.append("g").selectAll("circle").data(nonOscillation).join("circle")
  .attr("cx",d=>pd(d)[0]).attr("cy",d=>pd(d)[1]).attr("r",5.4).attr("fill","#0000ff");

function label(x,y,rot,sub,italicAll,gap){
  const t=svg.append("text").attr("transform",`translate(${x},${y}) rotate(${rot})`).attr("text-anchor","middle").attr("font-size",32).attr("fill","#000");
  t.append("tspan").attr("font-style","italic").text("L");
  t.append("tspan").attr("font-size",22).attr("dy",6).attr("font-style",italicAll?"italic":"normal").text(sub);
  t.append("tspan").attr("dy",-6).attr("dx",gap).attr("font-style",italicAll?"italic":"normal").text(" [nH]");
}
label(156,616,18,"d",true,3);
label(482,563,-43,"s",false,6);
label(602,253,-90,"g",false,4);

const lg=svg.append("g");
lg.append("rect").attr("x",308.5).attr("y",7).attr("width",288).attr("height",86).attr("rx",5)
  .attr("fill","#fff").attr("fill-opacity",0.8).attr("stroke","#ccc").attr("stroke-width",1.3);
[["#0000ff",30,38],["#ff0000",68,76]].forEach((d,i)=>{
  lg.append("circle").attr("cx",346).attr("cy",d[1]).attr("r",5.4).attr("fill",d[0]);
  lg.append("text").attr("x",393).attr("y",d[2]).attr("font-size",26).attr("fill","#000").text(legendLabels[i]);
});
</script></body></html>
